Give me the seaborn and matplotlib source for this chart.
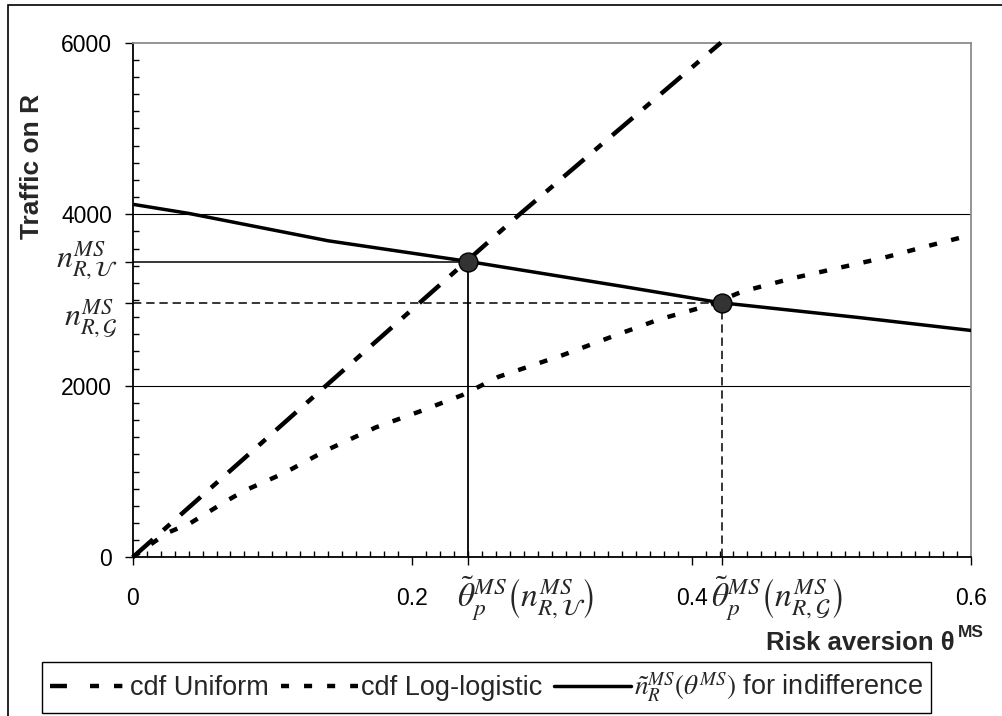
import numpy as np
import pandas as pd
import matplotlib
matplotlib.use('Agg')
import matplotlib.pyplot as plt
import seaborn as sns
from matplotlib.lines import Line2D
from matplotlib.ticker import MultipleLocator
from matplotlib.patches import Rectangle

# Curves (risk aversion theta vs traffic on R)
theta_uniform = [0.0, 0.139, 0.277, 0.421]
traffic_uniform = [0, 2010, 4000, 6000]

theta_loglog = [0.0, 0.024, 0.041, 0.067, 0.080, 0.108, 0.139, 0.174, 0.205, 0.236,
                0.262, 0.308, 0.348, 0.377, 0.412, 0.436, 0.472, 0.536, 0.567, 0.600]
traffic_loglog = [0, 280, 396, 656, 777, 979, 1251, 1515, 1698, 1892,
                  2106, 2359, 2603, 2775, 2935, 3097, 3253, 3486, 3621, 3758]

theta_indiff = [0.0, 0.04, 0.14, 0.24, 0.35, 0.42, 0.52, 0.60]
traffic_indiff = [4116, 4010, 3690, 3450, 3160, 2970, 2795, 2645]

# Equilibrium points
theta_U, n_RU = 0.2402, 3447
theta_G, n_RG = 0.4219, 2965

x_ticks = [0, 0.2, theta_U, 0.4, theta_G, 0.6]
x_ticklabels = ['0', '0.2', '', '0.4', '', '0.6']
y_ticks = [0, 2000, n_RG, n_RU, 4000, 6000]
y_ticklabels = ['0', '2000', '', '', '4000', '6000']
n_labels = [r'$n_{R,\mathcal{U}}^{MS}$', r'$n_{R,\mathcal{G}}^{MS}$']
theta_labels = [r'$\tilde{\theta}_p^{MS}\left(n_{R,\mathcal{U}}^{MS}\right)$',
                r'$\tilde{\theta}_p^{MS}\left(n_{R,\mathcal{G}}^{MS}\right)$']
legend_labels = ['cdf Uniform', 'cdf Log-logistic',
                 r'$\tilde{n}_R^{MS}\left(\theta^{MS}\right)$ for indifference']

sns.set_style('white')
plt.rcParams['font.family'] = ['Liberation Sans', 'DejaVu Sans']
plt.rcParams['mathtext.fontset'] = 'stix'
plt.rcParams['lines.scale_dashes'] = False

fig = plt.figure(figsize=(10.02, 7.16), dpi=100)
ax = fig.add_axes([0.1324, 0.2216, 0.8367, 0.7188])

# gridlines
for g in [2000, 4000]:
    ax.axhline(g, color='black', lw=0.8, zorder=1)

# reference lines to the equilibrium points
ax.hlines(n_RU, 0, theta_U, color='black', lw=1.1, zorder=2)
ax.vlines(theta_U, 0, n_RU, color='black', lw=1.3, zorder=2)
ax.hlines(n_RG, 0, theta_G, color='black', lw=1.1, linestyles=(0, (6, 3.5)), zorder=2)
ax.vlines(theta_G, 0, n_RG, color='black', lw=1.1, linestyles=(0, (6, 3.5)), zorder=2)

sns.lineplot(x=theta_uniform, y=traffic_uniform, ax=ax, color='black', lw=3.2,
             linestyle=(0, (19.5, 10, 6.5, 10)), clip_on=False, zorder=3)
sns.lineplot(x=theta_loglog, y=traffic_loglog, ax=ax, color='black', lw=3.2,
             linestyle=(0, (5.8, 10.5)), zorder=3)
sns.lineplot(x=theta_indiff, y=traffic_indiff, ax=ax, color='black', lw=2.5, zorder=3)

sns.scatterplot(x=[theta_U, theta_G], y=[n_RU, n_RG], ax=ax, s=185, color='#333333',
                edgecolor='black', linewidth=1, zorder=5, clip_on=False)

ax.set_xlim(0, 0.6)
ax.set_ylim(0, 6000)
ax.set_xticks(x_ticks)
ax.set_xticklabels(x_ticklabels)
ax.set_yticks(y_ticks)
ax.set_yticklabels(y_ticklabels)
ax.xaxis.set_minor_locator(MultipleLocator(0.01))
ax.yaxis.set_minor_locator(MultipleLocator(200))
ax.tick_params(which='major', direction='out', length=5.8, width=1, color='black',
               labelsize=16.5, labelcolor='black')
ax.tick_params(axis='x', which='major', pad=15.5)
ax.tick_params(axis='y', which='major', pad=9)
ax.tick_params(which='minor', direction='in', length=4.2, width=1, color='black')
ax.tick_params(bottom=True, left=True, which='both')

for sp in ['top', 'right']:
    ax.spines[sp].set_color('#8c8c8c')
    ax.spines[sp].set_linewidth(1.3)
for sp in ['left', 'bottom']:
    ax.spines[sp].set_color('black')
    ax.spines[sp].set_linewidth(1.3)

# n labels beside the two horizontal lines
for n_val, lab, dy in zip([n_RU, n_RG], n_labels, [1.5, -10.5]):
    ax.annotate(lab, xy=(0, n_val), xycoords=('axes fraction', 'data'),
                xytext=(-11, dy), textcoords='offset points',
                ha='right', va='center', fontsize=23)

# theta tilde labels under the two vertical lines
for th, lab in zip([theta_U, theta_G], theta_labels):
    ax.annotate(lab, xy=(th, 0), xycoords=('data', 'axes fraction'),
                xytext=(-8, -29.5), textcoords='offset points',
                ha='left', va='center', fontsize=24)

fig.text(32.5 / 1002, 1 - 166 / 716, 'Traffic on R', rotation=90, ha='center',
         va='center', fontsize=19, fontweight='bold')
fig.text(955 / 1002, 1 - 650 / 716, 'Risk aversion θ', ha='right', va='baseline',
         fontsize=18.5, fontweight='bold')
fig.text(958 / 1002, 1 - 637 / 716, 'MS', ha='left', va='baseline',
         fontsize=12.5, fontweight='bold')

h1 = Line2D([], [], color='black', lw=3.2, linestyle=(0, (12.2, 16.6, 6.5, 10.8, 6, 20)))
h2 = Line2D([], [], color='black', lw=3.2, linestyle=(0, (5.8, 10.8)))
h3 = Line2D([], [], color='black', lw=2.5)
leg = fig.legend([h1, h2, h3], legend_labels, loc='center',
                 bbox_to_anchor=(0.4855, 0.0398), ncol=3, fontsize=19.5,
                 frameon=True, fancybox=False, edgecolor='black',
                 handlelength=2.85, handletextpad=0.1, columnspacing=0.45,
                 borderpad=0.3)
leg.get_frame().set_linewidth(1.0)
leg.get_frame().set_alpha(1)

# outer chart border
fig.add_artist(Rectangle((8 / 1002, -0.05), 1.5, 1 - 5 / 716 + 0.05,
                         transform=fig.transFigure, fill=False,
                         edgecolor='black', lw=1.2))

fig.savefig('out.png', dpi=100)
